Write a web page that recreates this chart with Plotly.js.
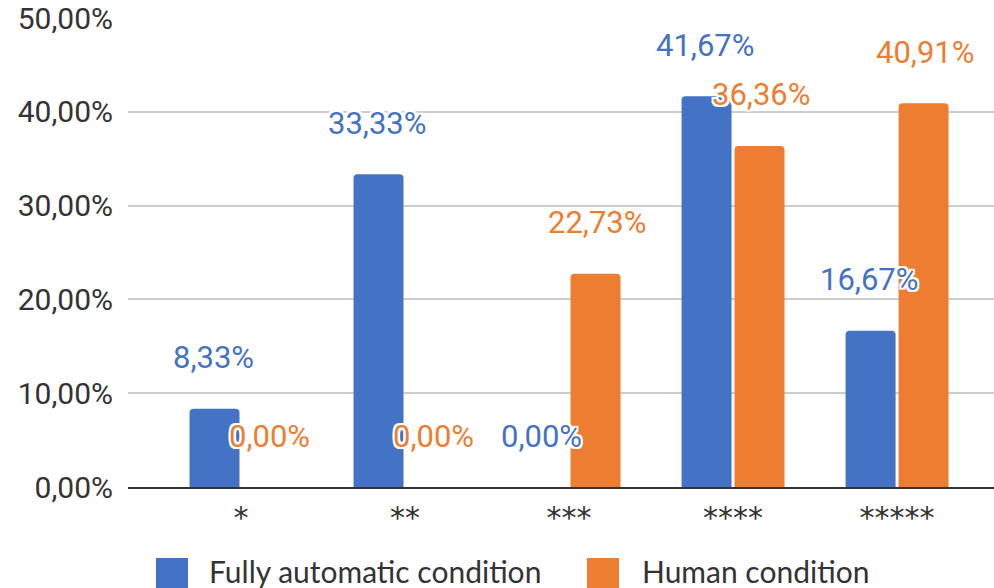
<!DOCTYPE html>
<html>
<head>
<meta charset="utf-8">
<script src="https://cdn.plot.ly/plotly-3.0.1.min.js"></script>
<style>html,body{margin:0;padding:0;background:#fff;}#chart{width:994px;height:588px;}</style>
</head>
<body>
<div id="chart"></div>
<script>
const categories = ['*', '**', '***', '****', '*****'];
const autoValues = [8.33, 33.33, 0, 41.67, 16.67];
const humanValues = [0, 0, 22.73, 36.36, 40.91];
const yTickValues = [0, 10, 20, 30, 40, 50];
const seriesNames = ['Fully automatic condition', 'Human condition'];
const seriesColors = ['#4472C4', '#ED7D31'];

const W = 994, H = 588;
const M = {l: 128, r: 0, t: 18, b: 101};
const pw = W - M.l - M.r, ph = H - M.t - M.b;
const px2x = p => (p - M.l) / pw;
const px2y = p => (H - M.b - p) / ph;

const fmt = v => v.toFixed(2).replace('.', ',') + '%';
const halo = '-2px -2px 0 #fff, 2px -2px 0 #fff, -2px 2px 0 #fff, 2px 2px 0 #fff, 0 2px 0 #fff, 0 -2px 0 #fff, 2px 0 0 #fff, -2px 0 0 #fff';

const xs = categories.map((c, i) => i);
const traces = [autoValues, humanValues].map((vals, s) => ({
  type: 'bar',
  x: xs,
  y: vals,
  name: seriesNames[s],
  marker: {color: seriesColors[s], cornerradius: 4},
  hoverinfo: 'skip',
  showlegend: false
}));

const annotations = [];
[autoValues, humanValues].forEach((vals, s) => {
  vals.forEach((v, i) => {
    annotations.push({
      x: i, y: v, xref: 'x', yref: 'y',
      text: fmt(v), showarrow: false,
      xanchor: 'center', yanchor: 'middle',
      xshift: s === 0 ? -28 : 28, yshift: 51,
      font: {family: 'Roboto', size: 31, color: seriesColors[s], shadow: halo}
    });
  });
});

// legend drawn in layout
const legendItems = [
  {box: 156, text: 207},
  {box: 587, text: 640}
];
const shapes = [];
legendItems.forEach((it, s) => {
  const x0 = px2x(it.box), x1 = px2x(it.box + 32);
  const y0 = px2y(558), y1 = px2y(592);
  shapes.push({type: 'rect', xref: 'paper', yref: 'paper', x0: x0, x1: x1, y0: y1, y1: y0,
    fillcolor: seriesColors[s], line: {width: 0}, layer: 'above'});
  annotations.push({
    xref: 'paper', yref: 'paper', x: px2x(it.text), y: px2y(571),
    xanchor: 'left', yanchor: 'middle', showarrow: false,
    text: seriesNames[s],
    font: {family: 'Lato', size: 30, color: '#333'}
  });
});

const layout = {
  width: W, height: H,
  margin: M,
  paper_bgcolor: '#fff', plot_bgcolor: '#fff',
  barmode: 'group',
  bargap: 0.354,
  bargroupgap: 0.057,
  showlegend: false,
  xaxis: {
    range: [-0.689, 4.591],
    tickmode: 'array', tickvals: xs, ticktext: categories,
    showgrid: false, zeroline: false,
    showline: true, linecolor: '#333', linewidth: 2,
    ticks: '', ticklabelstandoff: 3,
    tickfont: {family: 'DejaVu Sans', size: 30, color: '#333'},
    fixedrange: true
  },
  yaxis: {
    range: [0, 50],
    tickmode: 'array',
    tickvals: yTickValues,
    ticktext: yTickValues.map(fmt),
    showgrid: true, gridcolor: '#cccccc', gridwidth: 2,
    zeroline: false, showline: false, ticks: '',
    ticklabelstandoff: 14,
    tickfont: {family: 'Roboto', size: 30, color: '#333'},
    fixedrange: true
  },
  annotations: annotations,
  shapes: shapes
};

Plotly.newPlot('chart', traces, layout, {displayModeBar: false, staticPlot: true});
</script>
</body>
</html>
